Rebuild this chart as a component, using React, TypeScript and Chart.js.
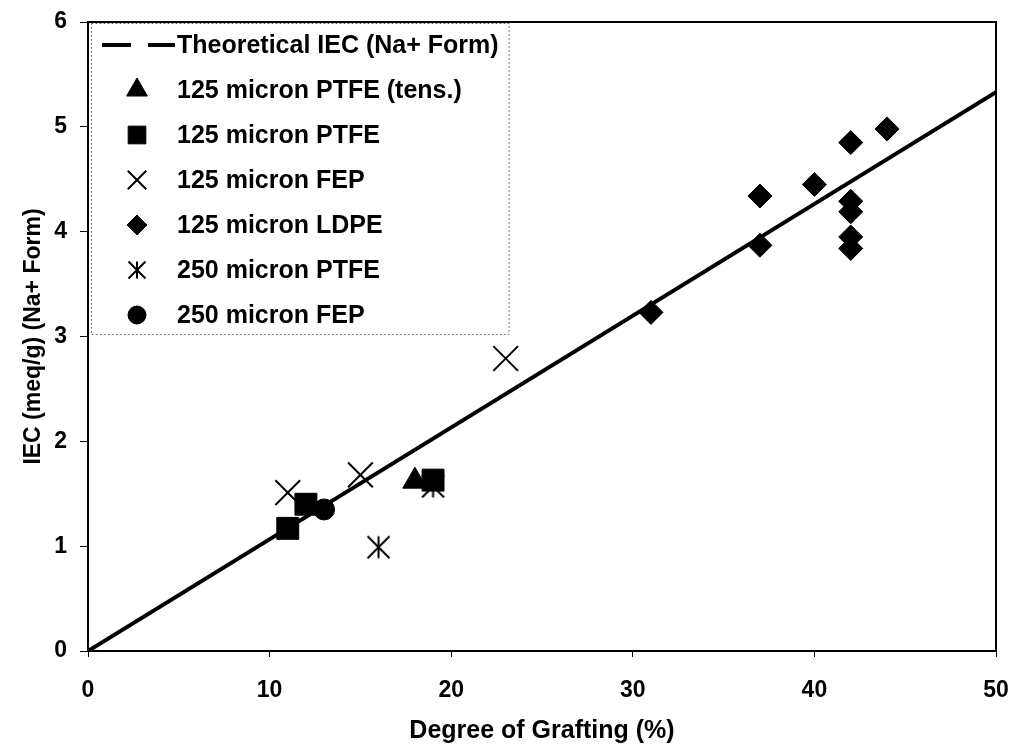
import React, { useEffect, useRef } from 'react';
import { Chart, registerables } from 'chart.js';
import { drawPoint } from 'chart.js/helpers';

Chart.register(...registerables);

// Theoretical IEC line (Na+ form)
const theoryX = [0, 50];
const theoryY = [0, 5.33];

// Measured samples: degree of grafting (%) vs IEC (meq/g)
const ptfeTensX = [18];
const ptfeTensY = [1.62];

const ptfe125X = [11, 12, 19];
const ptfe125Y = [1.17, 1.4, 1.63];

const fep125X = [11, 15, 23];
const fep125Y = [1.51, 1.68, 2.79];

const ldpe125X = [31, 37, 37, 40, 42, 42, 42, 42, 42, 44];
const ldpe125Y = [3.23, 3.87, 4.34, 4.45, 4.85, 4.29, 4.19, 3.95, 3.84, 4.98];

const ptfe250X = [16, 19];
const ptfe250Y = [0.99, 1.57];

const fep250X = [13];
const fep250Y = [1.35];

const xTicks = [0, 10, 20, 30, 40, 50];
const yTicks = [0, 1, 2, 3, 4, 5, 6];

const legendLabels = [
  'Theoretical IEC (Na+ Form)',
  '125 micron PTFE (tens.)',
  '125 micron PTFE',
  '125 micron FEP',
  '125 micron LDPE',
  '250 micron PTFE',
  '250 micron FEP',
];

const FONT = "'Liberation Sans', Arial, Helvetica, sans-serif";

const pts = (xs: number[], ys: number[]) => xs.map((x, i) => ({ x, y: ys[i] }));

function makeAsterisk(size: number, lw: number): HTMLCanvasElement {
  const c = document.createElement('canvas');
  c.width = size;
  c.height = size;
  const g = c.getContext('2d')!;
  g.strokeStyle = '#000';
  g.lineWidth = lw;
  const m = lw / 2 + 0.5;
  const e = size - m;
  g.beginPath();
  g.moveTo(size / 2, m);
  g.lineTo(size / 2, e);
  g.moveTo(m, m);
  g.lineTo(e, e);
  g.moveTo(e, m);
  g.lineTo(m, e);
  g.stroke();
  return c;
}

const frame = {
  id: 'frame',
  afterDraw(chart: any) {
    const { ctx, chartArea: a } = chart;
    ctx.save();
    ctx.strokeStyle = '#000';
    ctx.lineWidth = 2;
    ctx.strokeRect(a.left, a.top, a.right - a.left, a.bottom - a.top);
    ctx.restore();
  },
};

const legendBox = {
  id: 'legendBox',
  afterDatasetsDraw(chart: any) {
    const ctx = chart.ctx;
    const left = 91;
    const top = 23;
    const textX = 177;
    const markerX = 137;
    const rowY0 = 45;
    const rowStep = 45;
    ctx.save();
    ctx.font = `bold 25px ${FONT}`;
    let maxW = 0;
    legendLabels.forEach((t) => {
      maxW = Math.max(maxW, ctx.measureText(t).width);
    });
    const right = textX + maxW + 10;
    const bottom = 334;
    ctx.fillStyle = '#fff';
    ctx.fillRect(left, top, right - left, bottom - top);
    ctx.strokeStyle = '#777';
    ctx.lineWidth = 1;
    ctx.setLineDash([2, 2]);
    ctx.strokeRect(left + 0.5, top + 0.5, right - left, bottom - top);
    ctx.setLineDash([]);

    ctx.fillStyle = '#000';
    ctx.textAlign = 'left';
    ctx.textBaseline = 'middle';
    legendLabels.forEach((t, i) => {
      const y = rowY0 + i * rowStep;
      ctx.fillText(t, textX, y + 1);
    });

    // dashed line sample
    ctx.strokeStyle = '#000';
    ctx.lineWidth = 4;
    ctx.beginPath();
    ctx.moveTo(102, rowY0);
    ctx.lineTo(131, rowY0);
    ctx.moveTo(148, rowY0);
    ctx.lineTo(175, rowY0);
    ctx.stroke();

    const ds = chart.data.datasets;
    for (let i = 1; i < legendLabels.length; i++) {
      const d = ds[i];
      const y = rowY0 + i * rowStep;
      ctx.fillStyle = '#000';
      ctx.strokeStyle = '#000';
      ctx.lineWidth = d.pointBorderWidth ?? 1;
      drawPoint(
        ctx,
        {
          pointStyle: d.legendStyle ?? d.pointStyle,
          rotation: 0,
          borderWidth: d.pointBorderWidth ?? 1,
          radius: d.legendRadius,
        },
        markerX,
        y
      );
    }
    ctx.restore();
  },
};

export default function App() {
  const ref = useRef<HTMLCanvasElement | null>(null);

  useEffect(() => {
    const canvas = ref.current;
    if (!canvas) return;
    const star = makeAsterisk(25, 2);
    const starSmall = makeAsterisk(20, 2);

    const chart = new Chart(canvas, {
      type: 'scatter',
      data: {
        datasets: [
          {
            label: legendLabels[0],
            type: 'line',
            data: pts(theoryX, theoryY),
            borderColor: '#000',
            borderWidth: 4,
            pointRadius: 0,
            showLine: true,
            fill: false,
            order: 10,
          } as any,
          {
            label: legendLabels[1],
            data: pts(ptfeTensX, ptfeTensY),
            pointStyle: 'triangle',
            pointRadius: 14,
            legendRadius: 12,
            backgroundColor: '#000',
            borderColor: '#000',
            pointBorderWidth: 1,
          },
          {
            label: legendLabels[2],
            data: pts(ptfe125X, ptfe125Y),
            pointStyle: 'rect',
            pointRadius: 15.5,
            legendRadius: 12.5,
            backgroundColor: '#000',
            borderColor: '#000',
            pointBorderWidth: 1,
          },
          {
            label: legendLabels[3],
            data: pts(fep125X, fep125Y),
            pointStyle: 'crossRot',
            pointRadius: 17.5,
            legendRadius: 13,
            backgroundColor: '#000',
            borderColor: '#000',
            pointBorderWidth: 2,
          },
          {
            label: legendLabels[4],
            data: pts(ldpe125X, ldpe125Y),
            pointStyle: 'rectRot',
            pointRadius: 12,
            legendRadius: 10,
            backgroundColor: '#000',
            borderColor: '#000',
            pointBorderWidth: 1,
          },
          {
            label: legendLabels[5],
            data: pts(ptfe250X, ptfe250Y),
            pointStyle: star,
            legendStyle: starSmall,
            pointRadius: 12,
            legendRadius: 10,
            backgroundColor: '#000',
            borderColor: '#000',
            pointBorderWidth: 2,
          },
          {
            label: legendLabels[6],
            data: pts(fep250X, fep250Y),
            pointStyle: 'circle',
            pointRadius: 10.5,
            legendRadius: 9,
            backgroundColor: '#000',
            borderColor: '#000',
            pointBorderWidth: 1,
          },
        ] as any,
      },
      options: {
        responsive: false,
        animation: false,
        events: [],
        layout: { autoPadding: false, padding: { top: 22, right: 16, left: 0, bottom: 0 } },
        plugins: {
          legend: { display: false },
          tooltip: { enabled: false },
          title: { display: false },
        },
        scales: {
          x: {
            type: 'linear',
            min: 0,
            max: 50,
            afterBuildTicks: (s: any) => {
              s.ticks = xTicks.map((v) => ({ value: v }));
            },
            afterFit: (s: any) => {
              s.height = 93;
              s.paddingLeft = 0;
              s.paddingRight = 0;
            },
            ticks: {
              color: '#000',
              font: { family: FONT, size: 23, weight: 'bold' },
              padding: 20,
              maxRotation: 0,
            },
            grid: {
              drawOnChartArea: false,
              drawTicks: true,
              tickLength: 6,
              color: '#000',
              lineWidth: 1,
            },
            border: { display: false },
            title: {
              display: true,
              text: 'Degree of Grafting (%)',
              color: '#000',
              font: { family: FONT, size: 25, weight: 'bold', lineHeight: 1 },
              padding: { top: 0, bottom: 0 },
            },
          },
          y: {
            type: 'linear',
            min: 0,
            max: 6,
            afterBuildTicks: (s: any) => {
              s.ticks = yTicks.map((v) => ({ value: v }));
            },
            afterFit: (s: any) => {
              s.width = 88;
              s.paddingTop = 0;
              s.paddingBottom = 0;
            },
            ticks: {
              color: '#000',
              font: { family: FONT, size: 23, weight: 'bold' },
              padding: 13,
            },
            grid: {
              drawOnChartArea: false,
              drawTicks: true,
              tickLength: 8,
              color: '#000',
              lineWidth: 1,
            },
            border: { display: false },
            title: {
              display: true,
              text: 'IEC (meq/g) (Na+ Form)',
              color: '#000',
              font: { family: FONT, size: 23, weight: 'bold' },
              padding: { top: 20, bottom: 0 },
            },
          },
        },
      },
      plugins: [legendBox, frame],
    } as any);

    return () => chart.destroy();
  }, []);

  return (
    <div style={{ position: 'absolute', left: 0, top: 0, width: 1012, height: 744, background: '#fff' }}>
      <canvas ref={ref} width={1012} height={744} style={{ display: 'block' }} />
    </div>
  );
}
